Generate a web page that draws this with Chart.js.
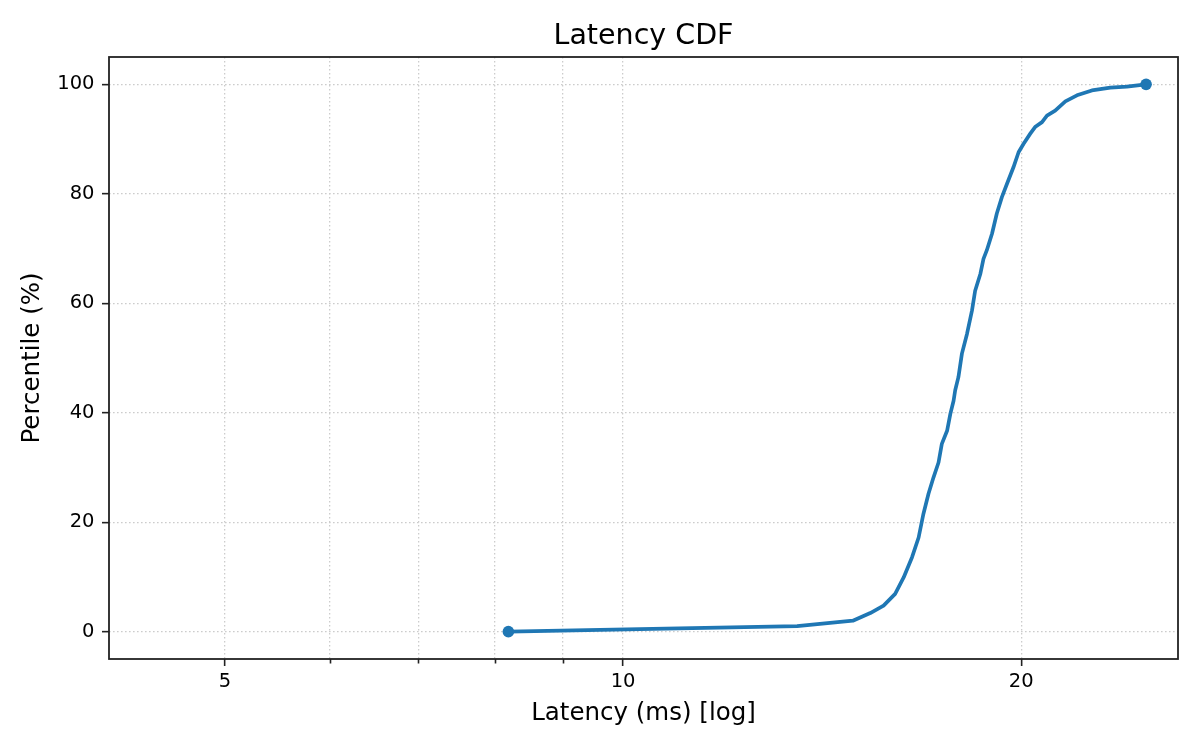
<!DOCTYPE html>
<html>
<head>
<meta charset="utf-8">
<script src="https://cdn.jsdelivr.net/npm/chart.js@4.4.1/dist/chart.umd.min.js"></script>
<style>
  html, body { margin: 0; padding: 0; background: #ffffff; }
  canvas { display: block; }
</style>
</head>
<body>
<canvas id="chart" width="1200" height="750"></canvas>
<script>
// ---- Data ----
const percentiles = [0, 1.0, 2.0, 3.4, 4.75, 6.9, 9.9, 13.6, 17.2, 21.5, 25.2, 28.2, 30.9, 34.3, 36.7, 39.8, 42.2, 44.1, 46.5, 50.8, 54.4, 58.7, 62.3, 65.4, 68.1, 69.7, 72.7, 76.4, 79.4, 81.8, 84.8, 87.6, 89.1, 91.0, 92.2, 93.1, 94.3, 95.2, 96.9, 98.0, 98.9, 99.4, 99.6, 100];
const latencyMs   = [8.19, 13.54, 14.92, 15.38, 15.74, 16.06, 16.30, 16.54, 16.73, 16.87, 17.02, 17.17, 17.32, 17.42, 17.58, 17.68, 17.78, 17.83, 17.93, 18.04, 18.20, 18.36, 18.46, 18.63, 18.73, 18.84, 19.01, 19.17, 19.34, 19.51, 19.73, 19.91, 20.08, 20.32, 20.49, 20.74, 20.92, 21.22, 21.60, 22.04, 22.62, 23.36, 24.04, 24.86];

const xMajorTicks = [5, 10, 20];
const xMinorTicks = [6, 7, 8, 9];
const yTicks = [0, 20, 40, 60, 80, 100];
const xLimits = [4.086, 26.28];
const yLimits = [-5, 105];

const titleText = 'Latency CDF';
const xLabelText = 'Latency (ms) [log]';
const yLabelText = 'Percentile (%)';

// ---- Styles ----
const FONT = "'DejaVu Sans', 'Liberation Sans', sans-serif";
const LINE_COLOR = '#1f77b4';
const AXIS_COLOR = '#222222';
const GRID_COLOR = '#cccccc';

const points = latencyMs.map((v, i) => ({ x: v, y: percentiles[i] }));
const allXTicks = [...xMajorTicks, ...xMinorTicks].sort((a, b) => a - b);

const framePlugin = {
  id: 'frame',
  afterDraw(chart) {
    const { ctx, chartArea } = chart;
    const xs = chart.scales.x;
    ctx.save();
    // minor tick marks (shorter)
    ctx.strokeStyle = AXIS_COLOR;
    ctx.lineWidth = 1.6;
    xMinorTicks.forEach(v => {
      const px = Math.round(xs.getPixelForValue(v)) + 0.5;
      ctx.beginPath();
      ctx.moveTo(px, chartArea.bottom);
      ctx.lineTo(px, chartArea.bottom + 4.5);
      ctx.stroke();
    });
    // axes frame
    ctx.lineWidth = 1.8;
    ctx.strokeRect(chartArea.left, chartArea.top, chartArea.right - chartArea.left, chartArea.bottom - chartArea.top);
    // title centred over the axes
    ctx.fillStyle = '#000000';
    ctx.font = "28.5px " + FONT;
    ctx.textAlign = 'center';
    ctx.textBaseline = 'alphabetic';
    ctx.fillText(titleText, (chartArea.left + chartArea.right) / 2, 44);
    ctx.restore();
  }
};

new Chart(document.getElementById('chart'), {
  type: 'line',
  data: {
    datasets: [{
      label: 'CDF',
      data: points,
      borderColor: LINE_COLOR,
      backgroundColor: LINE_COLOR,
      borderWidth: 3.7,
      tension: 0,
      fill: false,
      pointRadius: (c) => (c.dataIndex === 0 || c.dataIndex === points.length - 1) ? 5.8 : 0,
      pointHoverRadius: 0,
      pointBorderWidth: 0,
      pointBackgroundColor: LINE_COLOR,
      borderJoinStyle: 'round',
      borderCapStyle: 'round'
    }]
  },
  options: {
    responsive: false,
    animation: false,
    devicePixelRatio: 1,
    events: [],
    layout: { padding: { left: 0, right: 22, top: 57, bottom: 0 } },
    plugins: {
      legend: { display: false },
      tooltip: { enabled: false },
      title: { display: false }
    },
    scales: {
      x: {
        type: 'logarithmic',
        min: xLimits[0],
        max: xLimits[1],
        afterBuildTicks: (scale) => { scale.ticks = allXTicks.map(v => ({ value: v, major: xMajorTicks.includes(v) })); },
        afterFit: (scale) => { scale.height = 91; },
        ticks: {
          autoSkip: false,
          maxRotation: 0,
          minRotation: 0,
          padding: 4,
          color: '#000000',
          font: { family: FONT, size: 19.5 },
          callback: (value) => xMajorTicks.includes(value) ? String(value) : ''
        },
        grid: {
          color: GRID_COLOR,
          lineWidth: 1.3,
          drawTicks: true,
          tickLength: 7,
          tickWidth: 1.6,
          tickColor: (c) => (c.tick && xMajorTicks.includes(c.tick.value)) ? AXIS_COLOR : 'rgba(0,0,0,0)',
          tickBorderDash: []
        },
        border: { display: false, dash: [1.6, 2.4] },
        title: {
          display: true,
          text: xLabelText,
          color: '#000000',
          font: { family: FONT, size: 24.5, lineHeight: 1.2 },
          padding: { top: 0, bottom: 22 }
        }
      },
      y: {
        type: 'linear',
        min: yLimits[0],
        max: yLimits[1],
        afterBuildTicks: (scale) => { scale.ticks = yTicks.map(v => ({ value: v })); },
        afterFit: (scale) => { scale.width = 109; },
        ticks: {
          padding: 7.5,
          color: '#000000',
          font: { family: FONT, size: 19.5 },
          callback: (value) => String(value)
        },
        grid: {
          color: GRID_COLOR,
          lineWidth: 1.3,
          drawTicks: true,
          tickLength: 7,
          tickWidth: 1.6,
          tickColor: AXIS_COLOR,
          tickBorderDash: []
        },
        border: { display: false, dash: [1.6, 2.4] },
        title: {
          display: true,
          text: yLabelText,
          color: '#000000',
          font: { family: FONT, size: 24.5, lineHeight: 1.2 },
          padding: { top: 18, bottom: 0 }
        }
      }
    }
  },
  plugins: [framePlugin]
});
</script>
</body>
</html>
